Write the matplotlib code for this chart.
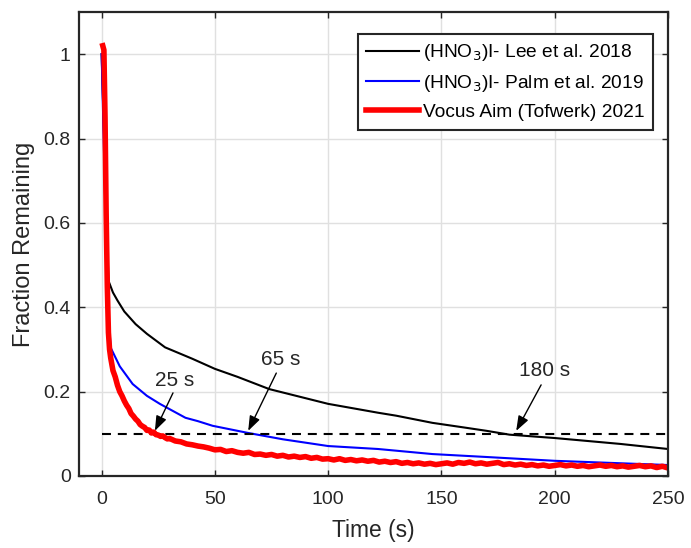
import numpy as np
import matplotlib
matplotlib.use("Agg")
import matplotlib.pyplot as plt
from matplotlib.ticker import FormatStrFormatter

plt.rcParams['font.family'] = ['Liberation Sans', 'DejaVu Sans']

# (HNO3)I- Lee et al. 2018
lee_t = [0, 3, 5, 7, 10, 15, 20, 28, 40, 50, 60, 74, 100, 122, 130, 146, 160,
         170, 180, 200, 229, 250]
lee_y = [1.0, 0.463, 0.435, 0.416, 0.39, 0.36, 0.337, 0.305, 0.278, 0.254,
         0.235, 0.206, 0.171, 0.15, 0.143, 0.126, 0.115, 0.107, 0.098, 0.09,
         0.076, 0.064]

# (HNO3)I- Palm et al. 2019
palm_t = [0, 1, 2, 3, 4, 8, 13.7, 20, 25.7, 37, 42.5, 49, 64.7, 80, 100, 122,
          146, 170, 200, 225, 250]
palm_y = [1.0, 0.78, 0.55, 0.38, 0.304, 0.26, 0.218, 0.19, 0.171, 0.138, 0.13,
          0.119, 0.102, 0.087, 0.071, 0.064, 0.052, 0.045, 0.036, 0.031, 0.026]

# Vocus Aim (Tofwerk) 2021
vocus_t = [0.5, 1, 1.5, 2, 2.5, 3, 3.5, 4, 5, 6, 7, 8, 9, 10, 11, 12, 13, 14,
           15, 16, 17, 18, 19, 20, 21, 22, 23, 24, 25, 26, 27, 28, 29, 30,
           32.5, 35, 37.5, 40, 42.5, 45, 47.5, 50, 52.5, 55, 57.5, 60, 62.5,
           65, 67.5, 70, 72.5, 75, 77.5, 80, 82.5, 85, 87.5, 90, 92.5, 95,
           97.5, 100, 102.5, 105, 107.5, 110, 112.5, 115, 117.5, 120, 122.5,
           125, 127.5, 130, 132.5, 135, 137.5, 140, 142.5, 145, 147.5, 150,
           152.5, 155, 157.5, 160, 162.5, 165, 167.5, 170, 172.5, 175, 177.5,
           180, 182.5, 185, 187.5, 190, 192.5, 195, 197.5, 200, 202.5, 205,
           207.5, 210, 212.5, 215, 217.5, 220, 222.5, 225, 227.5, 230, 232.5,
           235, 237.5, 240, 242.5, 245, 247.5, 250]
vocus_y = [1.02, 1.01, 0.85, 0.62, 0.45, 0.34, 0.30, 0.28, 0.25, 0.235, 0.215,
           0.20, 0.19, 0.178, 0.168, 0.16, 0.148, 0.142, 0.135, 0.13, 0.122,
           0.118, 0.115, 0.108, 0.109, 0.102, 0.104, 0.098, 0.097, 0.094,
           0.095, 0.091, 0.088, 0.089,
           0.083, 0.081, 0.076, 0.074, 0.071, 0.069, 0.066, 0.062, 0.063,
           0.058, 0.060, 0.056, 0.054, 0.056, 0.051, 0.052, 0.049, 0.051,
           0.047, 0.049, 0.045, 0.047, 0.044, 0.046, 0.042, 0.044, 0.040,
           0.041, 0.038, 0.041, 0.037, 0.039, 0.036, 0.038, 0.035, 0.037,
           0.033, 0.035, 0.032, 0.034, 0.030, 0.032, 0.029, 0.031, 0.028,
           0.030, 0.027, 0.029, 0.031, 0.028, 0.032, 0.030, 0.033, 0.029,
           0.031, 0.028, 0.030, 0.032, 0.027, 0.029, 0.026, 0.028, 0.025,
           0.027, 0.024, 0.026, 0.023, 0.025, 0.027, 0.024, 0.026, 0.023,
           0.025, 0.022, 0.024, 0.026, 0.023, 0.025, 0.022, 0.024, 0.021,
           0.023, 0.025, 0.022, 0.024, 0.020, 0.023, 0.019]

threshold = 0.1

# annotations: label, text centre (t, y), arrow tail (t, y), arrow head (t, y)
note_labels = ["25 s", "65 s", "180 s"]
note_text = [(32.4, 0.227), (78.9, 0.275), (195.5, 0.251)]
note_tail = [(31.5, 0.197), (77.1, 0.244), (194, 0.216)]
note_head = [(23.5, 0.107), (64.7, 0.107), (183, 0.107)]

fig = plt.figure(figsize=(6.91, 5.48), dpi=100)
ax = fig.add_axes([0.1143, 0.1314, 0.8524, 0.8467])

ax.plot(lee_t, lee_y, color='black', lw=1.5, label='(HNO$_3$)I- Lee et al. 2018')
ax.plot(palm_t, palm_y, color='blue', lw=1.5, label='(HNO$_3$)I- Palm et al. 2019')
ax.plot([0, 250], [threshold, threshold], color='black', lw=1.5,
        dashes=(4.3, 3.3))
ax.plot(vocus_t, vocus_y, color='red', lw=4.0, label='Vocus Aim (Tofwerk) 2021')

for lab, tp, tail, head in zip(note_labels, note_text, note_tail, note_head):
    ax.text(tp[0], tp[1], lab, fontsize=15, ha='center', va='center',
            color='#262626')
    ax.annotate('', xy=head, xytext=tail,
                arrowprops=dict(arrowstyle='-|>,head_length=0.9,head_width=0.33',
                                color='black', lw=1.0, shrinkA=0, shrinkB=0))

ax.set_xlim(-10, 250)
ax.set_ylim(0, 1.1)
ax.set_xticks([0, 50, 100, 150, 200, 250])
ax.set_yticks([0, 0.2, 0.4, 0.6, 0.8, 1])
ax.yaxis.set_major_formatter(FormatStrFormatter('%g'))
ax.tick_params(direction='in', length=4, width=1, top=True, right=True,
               labelsize=14, colors='#262626')
ax.tick_params(axis='x', pad=11)
ax.tick_params(axis='y', pad=6)
ax.grid(True, color='#e0e0e0', lw=1)
ax.set_axisbelow(True)
for s in ax.spines.values():
    s.set_linewidth(1.6)
    s.set_color('#262626')

ax.set_xlabel('Time (s)', fontsize=16.4, color='#262626', labelpad=8)
ax.set_ylabel('Fraction Remaining', fontsize=17, color='#262626', labelpad=6)

leg = ax.legend(loc='upper right', bbox_to_anchor=(0.9745, 0.953),
                borderaxespad=0, fontsize=13.8, fancybox=False,
                framealpha=1, edgecolor='#262626', handlelength=2.75,
                handletextpad=0.2, borderpad=0.45, labelspacing=0.5)
leg.get_frame().set_linewidth(1.5)

plt.savefig('out.png', dpi=100)
